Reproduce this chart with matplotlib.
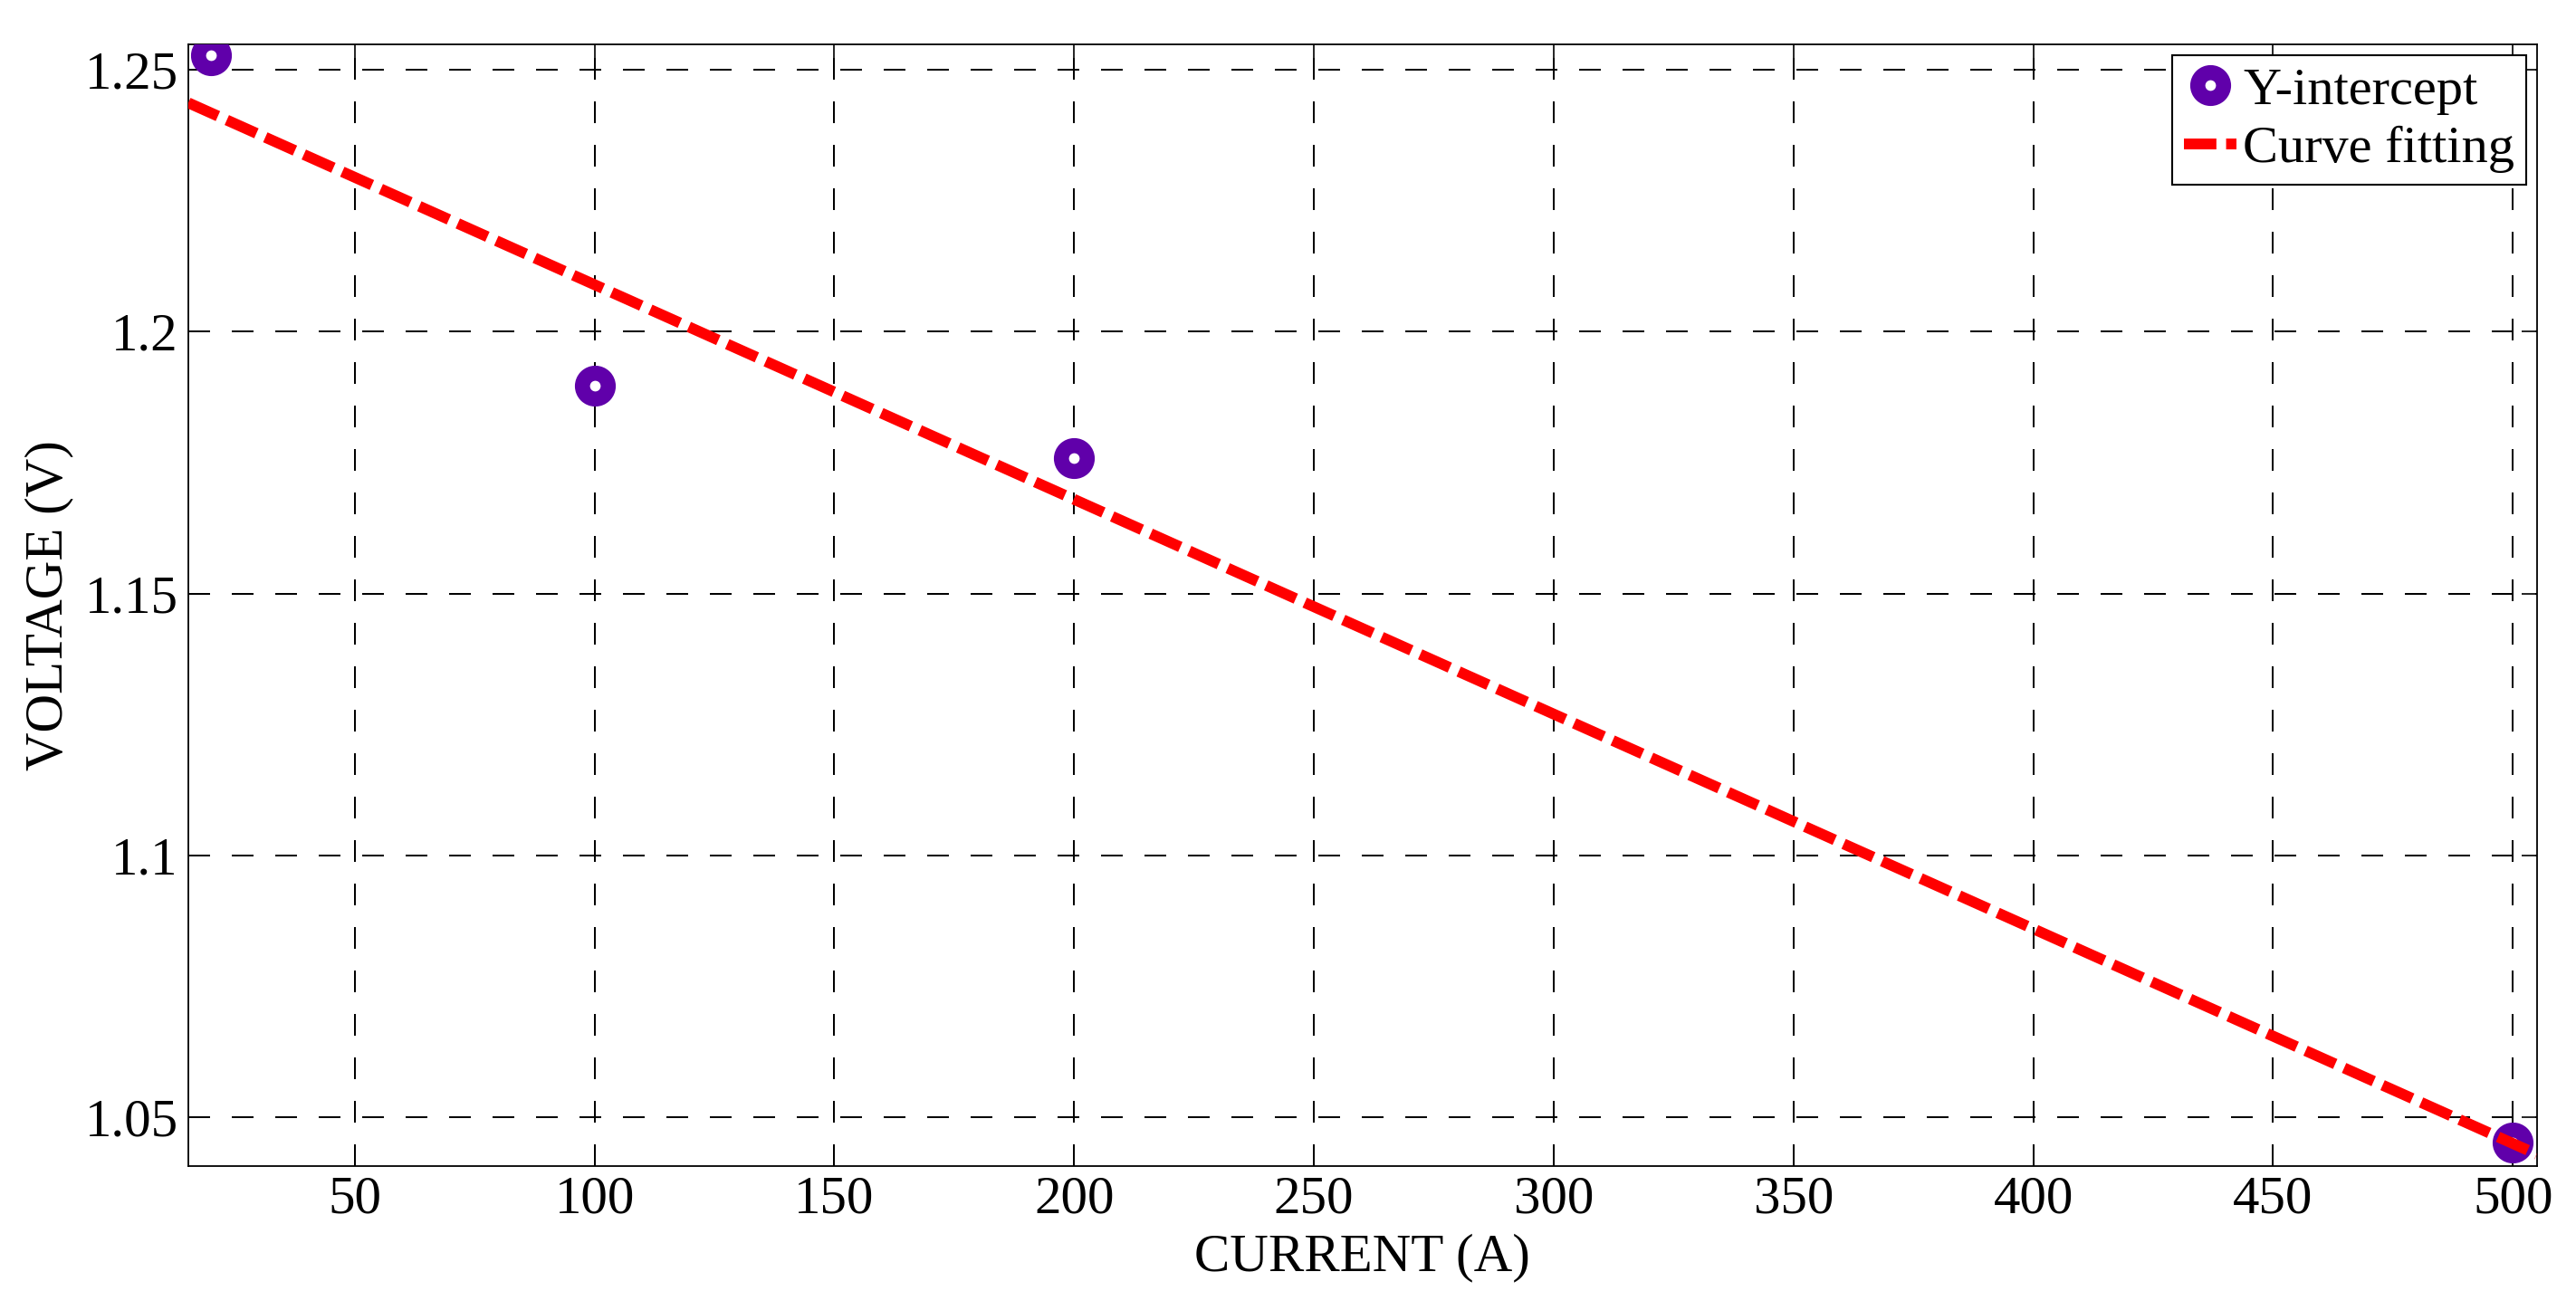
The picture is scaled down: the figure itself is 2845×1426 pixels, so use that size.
import matplotlib
matplotlib.use('Agg')
import matplotlib.pyplot as plt

# Measured points (Y-intercept vs current)
current = [20, 100, 200, 500]
voltage = [1.2528, 1.1897, 1.1759, 1.0452]

# Linear fit line, end points
fit_current = [15.3, 505]
fit_voltage = [1.2437, 1.0430]

x_ticks = [50, 100, 150, 200, 250, 300, 350, 400, 450, 500]
y_ticks = [1.05, 1.1, 1.15, 1.2, 1.25]
y_tick_labels = ['1.05', '1.1', '1.15', '1.2', '1.25']

plt.rcParams['font.family'] = ['Liberation Serif', 'DejaVu Serif']

fig = plt.figure(figsize=(28.45, 14.26), dpi=100)
ax = fig.add_axes([0.0731, 0.0970, 0.9117, 0.8684])

ax.plot(current, voltage, linestyle='none', marker='o', markersize=20.5,
        markerfacecolor='white', markeredgecolor='#6000aa',
        markeredgewidth=12, label='Y-intercept', zorder=3)
ax.plot(fit_current, fit_voltage, color='red', linewidth=8.6,
        linestyle=(0, (3, 0.9)), dash_capstyle='butt', label='Curve fitting',
        zorder=4)

ax.set_xlim(15.3, 505)
ax.set_ylim(1.0408, 1.2548)
ax.set_xticks(x_ticks)
ax.set_yticks(y_ticks)
ax.set_yticklabels(y_tick_labels)

ax.grid(True, color='black', linewidth=1.44, linestyle=(0, (12, 12)))
ax.set_axisbelow(True)

ax.tick_params(direction='in', length=12, width=1.2, labelsize=42.5,
               top=True, right=True, pad=8)
for s in ax.spines.values():
    s.set_linewidth(1.3)

ax.set_xlabel('CURRENT (A)', fontsize=42.5, labelpad=7)
ax.set_ylabel('VOLTAGE (V)', fontsize=42.5, labelpad=9)

leg = ax.legend(loc='upper right', fontsize=42, frameon=True, fancybox=False,
                framealpha=1, edgecolor='black', handlelength=1.0,
                handletextpad=0.12, borderpad=0.22, labelspacing=0.2,
                borderaxespad=0.2)
leg.get_frame().set_linewidth(1.5)

fig.savefig('out.png', dpi=100)
